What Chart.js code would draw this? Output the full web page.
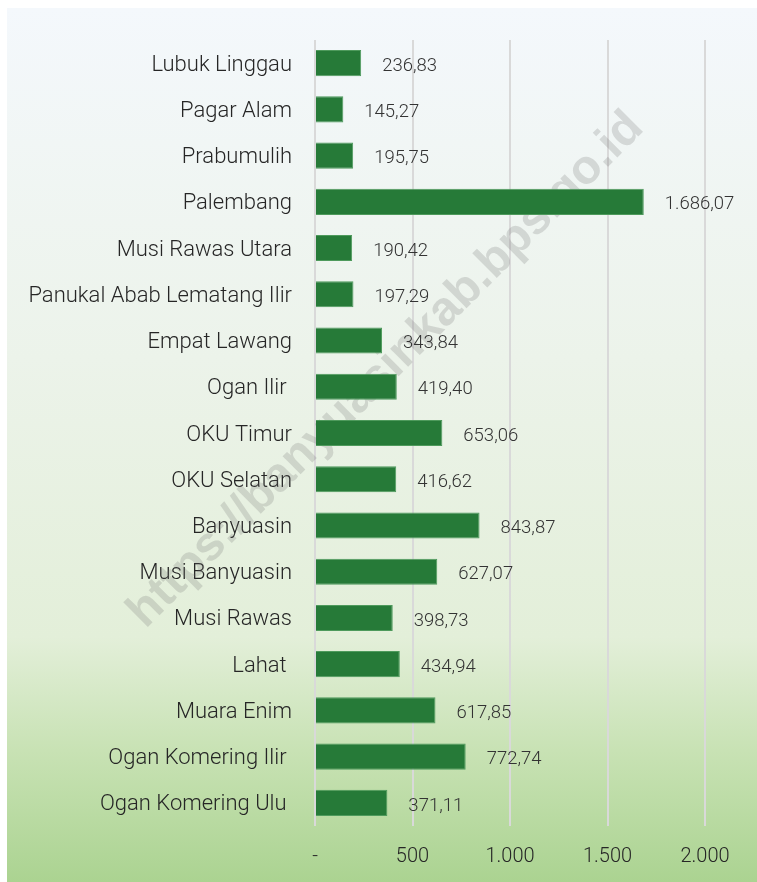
<!DOCTYPE html>
<html>
<head>
<meta charset="utf-8">
<script src="https://cdn.jsdelivr.net/npm/chart.js@4/dist/chart.umd.min.js"></script>
<style>
  html, body { margin: 0; padding: 0; background: #ffffff; }
  body { width: 757px; height: 882px; position: relative; overflow: hidden; }
  #panel {
    position: absolute; left: 7px; top: 8px; width: 750px; height: 874px;
    background: linear-gradient(to bottom, #f4f8fc 0%, #ecf3ea 40%, #e3efd9 72%, #c8e2b4 85%, #abd391 100%);
  }
  #panel canvas { display: block; }
</style>
</head>
<body>
<div id="panel"><canvas id="c" width="750" height="874"></canvas></div>
<script>
const categories = ['Lubuk Linggau', 'Pagar Alam', 'Prabumulih', 'Palembang', 'Musi Rawas Utara',
  'Panukal Abab Lematang Ilir', 'Empat Lawang', 'Ogan Ilir ', 'OKU Timur', 'OKU Selatan',
  'Banyuasin', 'Musi Banyuasin', 'Musi Rawas', 'Lahat ', 'Muara Enim',
  'Ogan Komering Ilir ', 'Ogan Komering Ulu '];
const values = [236.83, 145.27, 195.75, 1686.07, 190.42, 197.29, 343.84, 419.40, 653.06, 416.62,
  843.87, 627.07, 398.73, 434.94, 617.85, 772.74, 371.11];
const xTickValues = [0, 500, 1000, 1500, 2000];
const xTickLabels = ['-', '500', '1.000', '1.500', '2.000'];
const watermarkText = 'https://banyuasinkab.bps.go.id';

function fmtId(v) {
  const parts = v.toFixed(2).split('.');
  const intPart = parts[0].replace(/\B(?=(\d{3})+(?!\d))/g, '.');
  return intPart + ',' + parts[1];
}

const watermarkPlugin = {
  id: 'watermark',
  beforeDatasetsDraw(chart) {
    const ctx = chart.ctx;
    ctx.save();
    ctx.translate(379, 362);
    ctx.rotate(-Math.PI / 4);
    ctx.font = 'bold 48px "Liberation Sans", Arial, sans-serif';
    ctx.fillStyle = 'rgba(110,110,110,0.22)';
    ctx.textAlign = 'center';
    ctx.textBaseline = 'middle';
    ctx.fillText(watermarkText, 0, 0);
    ctx.restore();
  }
};

const valueLabelPlugin = {
  id: 'valueLabels',
  afterDatasetsDraw(chart) {
    const ctx = chart.ctx;
    const meta = chart.getDatasetMeta(0);
    ctx.save();
    ctx.font = '300 18.5px Roboto, sans-serif';
    ctx.fillStyle = '#333333';
    ctx.textAlign = 'left';
    ctx.textBaseline = 'middle';
    meta.data.forEach((bar, i) => {
      ctx.fillText(fmtId(values[i]), bar.x + 21, bar.y + 3);
    });
    ctx.restore();
  }
};

new Chart(document.getElementById('c'), {
  type: 'bar',
  data: {
    labels: categories,
    datasets: [{
      data: values,
      backgroundColor: '#267a38',
      borderColor: '#4e9a5c',
      borderWidth: 1,
      barPercentage: 0.565,
      categoryPercentage: 1.0
    }]
  },
  options: {
    indexAxis: 'y',
    responsive: false,
    animation: false,
    layout: { padding: { top: 32, right: 52, bottom: 0, left: 0 } },
    plugins: { legend: { display: false }, tooltip: { enabled: false } },
    scales: {
      x: {
        min: 0, max: 2000,
        afterBuildTicks(scale) { scale.ticks = xTickValues.map(v => ({ value: v })); },
        afterFit(scale) { scale.height = 56; },
        grid: { color: '#d9d9d9', lineWidth: 2, drawTicks: false },
        border: { display: false },
        ticks: {
          padding: 19,
          color: '#262626',
          font: { family: 'Roboto', size: 20, weight: '300' },
          callback: (v) => xTickLabels[xTickValues.indexOf(v)]
        }
      },
      y: {
        afterFit(scale) { scale.width = 308; },
        grid: { display: false },
        border: { display: false },
        ticks: {
          padding: 15,
          labelOffset: 2,
          color: '#262626',
          font: { family: 'Roboto', size: 22, weight: '300' }
        }
      }
    }
  },
  plugins: [watermarkPlugin, valueLabelPlugin]
});
</script>
</body>
</html>
